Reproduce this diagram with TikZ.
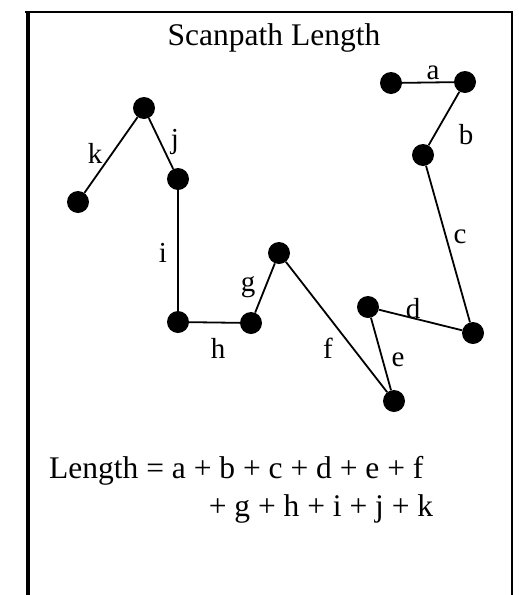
\documentclass[tikz,border=0pt]{standalone}
\usepackage{fontspec}
\setmainfont{Liberation Serif}
\begin{document}
\begin{tikzpicture}[x=1pt,y=-1pt,
  dot/.style={circle,fill=black,minimum size=22pt,inner sep=0pt},
  seg/.style={line width=1.8pt},
  lab/.style={font=\fontsize{29}{31}\selectfont,inner sep=0pt},
  big/.style={font=\fontsize{31.5}{33}\selectfont,inner sep=0pt}]
\useasboundingbox (0,0) rectangle (519,595);
% frame
\draw[line width=3.5pt] (28,11) -- (28,595);
\draw[line width=2.5pt] (25,12) -- (513,12);
\draw[line width=2.2pt] (512,12) -- (512,595);
% title
\node[big] (title) at (274,38) {Scanpath Length};
% fixation points
\node[dot] (p1) at (391,83) {};
\node[dot] (p2) at (465,82) {};
\node[dot] (p3) at (423,155) {};
\node[dot] (p4) at (473,333) {};
\node[dot] (p5) at (368,307) {};
\node[dot] (p6) at (394,401) {};
\node[dot] (p7) at (279,253) {};
\node[dot] (p8) at (251,323) {};
\node[dot] (p9) at (178,322) {};
\node[dot] (p10) at (178,179) {};
\node[dot] (p11) at (144,108) {};
\node[dot] (p12) at (78,202) {};
% segments
\draw[seg] (p1) -- (p2);
\draw[seg] (p2) -- (p3);
\draw[seg] (p3) -- (p4);
\draw[seg] (p4) -- (p5);
\draw[seg] (p5) -- (p6);
\draw[seg] (p6) -- (p7);
\draw[seg] (p7) -- (p8);
\draw[seg] (p8) -- (p9);
\draw[seg] (p9) -- (p10);
\draw[seg] (p10) -- (p11);
\draw[seg] (p11) -- (p12);
% labels
\node[lab] (la) at (433,73) {a};
\node[lab] (lb) at (466,135) {b};
\node[lab] (lc) at (460,237) {c};
\node[lab] (ld) at (413,309) {d};
\node[lab] (le) at (398,360) {e};
\node[lab] (lf) at (328,348) {f};
\node[lab] (lg) at (248,287) {g};
\node[lab] (lh) at (218,348) {h};
\node[lab] (li) at (163,253) {i};
\node[lab] (lj) at (175,142) {j};
\node[lab] (lk) at (95,153) {k};
% formula
\node[big,anchor=base west] (f1) at (49,478) {Length = a + b + c + d + e + f};
\node[big,anchor=base] (f2) at (321,516) {+ g + h + i + j + k};
\end{tikzpicture}
\end{document}
